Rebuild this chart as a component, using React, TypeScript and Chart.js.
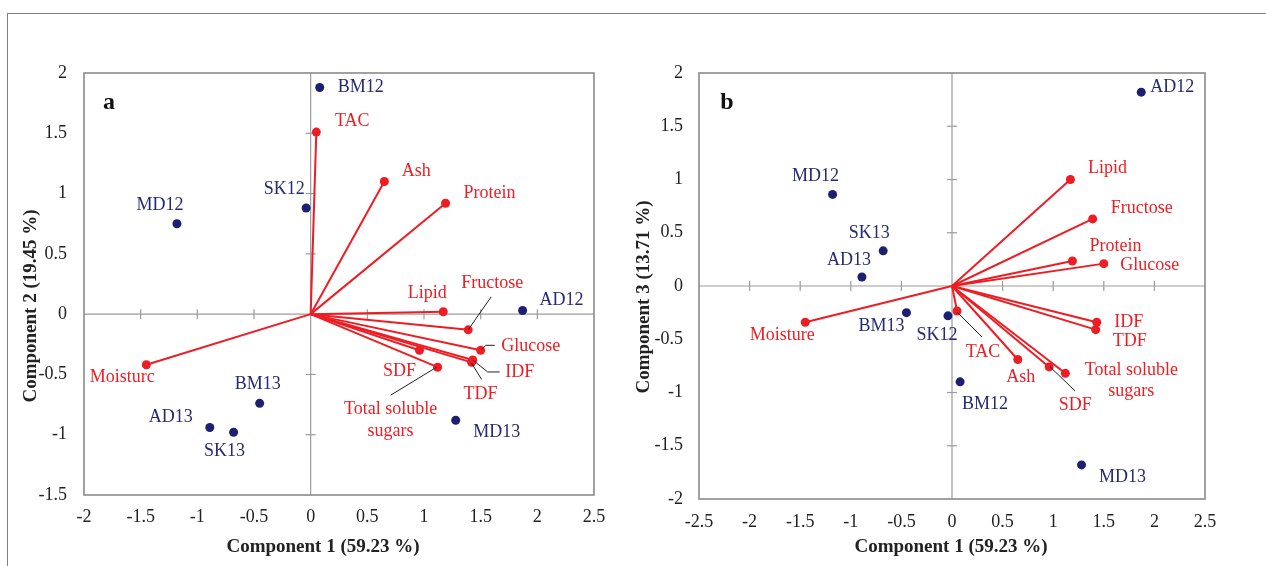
import React, { useEffect, useRef } from 'react';
import { Chart, registerables } from 'chart.js';

Chart.register(...registerables);

// ---------- data ----------
const sampleNames = ['AD12', 'AD13', 'BM12', 'BM13', 'MD12', 'MD13', 'SK12', 'SK13'];
const samplePC1 = [1.87, -0.89, 0.08, -0.45, -1.18, 1.28, -0.04, -0.68];
const samplePC2 = [0.03, -0.94, 1.88, -0.74, 0.75, -0.88, 0.88, -0.98];
const samplePC3 = [1.82, 0.085, -0.9, -0.25, 0.86, -1.68, -0.28, 0.33];

const variableNames = ['Moisture', 'Ash', 'Protein', 'Lipid', 'TAC', 'Fructose', 'Glucose', 'Total soluble sugars', 'SDF', 'IDF', 'TDF'];
const variablePC1 = [-1.45, 0.65, 1.19, 1.17, 0.05, 1.39, 1.5, 1.12, 0.96, 1.43, 1.42];
const variablePC2 = [-0.42, 1.1, 0.92, 0.02, 1.51, -0.13, -0.3, -0.44, -0.3, -0.38, -0.4];
const variablePC3 = [-0.34, -0.69, 0.235, 1.0, -0.235, 0.63, 0.21, -0.82, -0.76, -0.34, -0.41];

const xTitle = 'Component 1 (59.23 %)';
const yTitleA = 'Component 2 (19.45 %)';
const yTitleB = 'Component 3 (13.71 %)';

// ---------- layout / style ----------
const SERIF = "'Liberation Serif', 'Times New Roman', serif";
const NAVY = '#1d2070';
const NAVY_TEXT = '#262a73';
const RED = '#ee1d23';
const TEXT = '#222222';

type Off = [number, number];
type PanelCfg = {
  letter: string;
  canvasLeft: number;
  canvasWidth: number;
  area: { left: number; top: number; right: number; bottom: number };
  xMin: number; xMax: number; yMin: number; yMax: number;
  ys: number[]; yv: number[];
  xTitlePos: Off; yTitlePos: Off; letterPos: Off;
  yTitle: string;
  yTickPad: number; xTickPad: number;
  labelText: Record<string, string[]>;
  sampleOff: Record<string, Off>;
  varOff: Record<string, Off>;
  lineGap: number;
  leaders: Record<string, Off[]>;
};

const panelA: PanelCfg = {
  letter: 'a',
  canvasLeft: 0,
  canvasWidth: 630,
  area: { left: 84, top: 73, right: 594, bottom: 495 },
  xMin: -2, xMax: 2.5, yMin: -1.5, yMax: 2,
  ys: samplePC2, yv: variablePC2,
  xTitlePos: [323, 547], yTitlePos: [31, 306], letterPos: [109, 103],
  yTitle: yTitleA,
  yTickPad: 17, xTickPad: 11,
  labelText: { Moisture: ['Moisturc'], 'Total soluble sugars': ['Total soluble', 'sugars'] },
  sampleOff: {
    AD12: [39, -10], AD13: [-39, -10], BM12: [41, 0], BM13: [-2, -19],
    MD12: [-17, -18], MD13: [41, 12], SK12: [-22, -19], SK13: [-9, 19],
  },
  varOff: {
    Moisture: [-24, 12], Ash: [32, -10], Protein: [44, -10], Lipid: [-16, -18], TAC: [36, -11],
    Fructose: [24, -47], Glucose: [50, -4], 'Total soluble sugars': [-47, 42], SDF: [-20, 21],
    IDF: [47, 12], TDF: [9, 32],
  },
  lineGap: 22,
  leaders: {
    Fructose: [[0, 0], [23, -33]],
    Glucose: [[1, -1], [5, -5], [14, -5]],
    IDF: [[0, 0], [15, 12], [27, 12]],
    TDF: [[0, 1], [10, 17]],
    'Total soluble sugars': [[-1, 0], [-47, 28]],
  },
};

const panelB: PanelCfg = {
  letter: 'b',
  canvasLeft: 630,
  canvasWidth: 636,
  area: { left: 69, top: 73, right: 575, bottom: 499 },
  xMin: -2.5, xMax: 2.5, yMin: -2, yMax: 2,
  ys: samplePC3, yv: variablePC3,
  xTitlePos: [321, 547], yTitlePos: [14, 297], letterPos: [97, 103],
  yTitle: yTitleB,
  yTickPad: 16, xTickPad: 12,
  labelText: { 'Total soluble sugars': ['Total soluble', 'sugars'] },
  sampleOff: {
    AD12: [31, -5], AD13: [-13, -17], BM12: [25, 22], BM13: [-25, 14],
    MD12: [-17, -18], MD13: [41, 12], SK12: [-11, 19], SK13: [-14, -18],
  },
  varOff: {
    Moisture: [-23, 13], Ash: [3, 18], Protein: [43, -15], Lipid: [37, -11], TAC: [26, 41],
    Fructose: [49, -11], Glucose: [46, 2], 'Total soluble sugars': [66, -3], SDF: [26, 38],
    IDF: [32, 0], TDF: [34, 12],
  },
  lineGap: 21,
  leaders: {
    TAC: [[0, 1], [25, 26]],
    SDF: [[1, 0], [26, 24]],
  },
};

const fmtTick = (v: any) => String(Math.round(Number(v) * 100) / 100);

function makePlugin(cfg: PanelCfg) {
  return {
    id: 'biplot' + cfg.letter,
    beforeDatasetsDraw(chart: any) {
      const { ctx, chartArea: ca, scales } = chart;
      const x = scales.x, y = scales.y;
      const x0 = x.getPixelForValue(0);
      const y0 = y.getPixelForValue(0);
      ctx.save();
      ctx.strokeStyle = '#9c9c9c';
      ctx.lineWidth = 1.2;
      const seg = (a: number, b: number, c: number, d: number) => {
        ctx.beginPath(); ctx.moveTo(a, b); ctx.lineTo(c, d); ctx.stroke();
      };
      seg(x0, ca.top, x0, ca.bottom);
      seg(ca.left, y0, ca.right, y0);
      x.ticks.forEach((t: any) => {
        if (t.value > x.min && t.value < x.max && t.value !== 0) {
          const px = x.getPixelForValue(t.value);
          seg(px, y0 - 5, px, y0 + 5);
        }
      });
      y.ticks.forEach((t: any) => {
        if (t.value > y.min && t.value < y.max && t.value !== 0) {
          const py = y.getPixelForValue(t.value);
          seg(x0 - 5, py, x0 + 5, py);
        }
      });
      ctx.strokeStyle = '#8a8a8a';
      ctx.lineWidth = 1.6;
      ctx.strokeRect(ca.left, ca.top, ca.right - ca.left, ca.bottom - ca.top);
      ctx.restore();
    },
    afterDatasetsDraw(chart: any) {
      const { ctx, scales } = chart;
      const x = scales.x, y = scales.y;
      ctx.save();
      ctx.textAlign = 'center';
      ctx.textBaseline = 'middle';
      // leader lines
      ctx.strokeStyle = '#222';
      ctx.lineWidth = 1;
      variableNames.forEach((n, i) => {
        const pts = cfg.leaders[n];
        if (!pts) return;
        const px = x.getPixelForValue(variablePC1[i]);
        const py = y.getPixelForValue(cfg.yv[i]);
        ctx.beginPath();
        pts.forEach((p, k) => {
          if (k === 0) ctx.moveTo(px + p[0], py + p[1]);
          else ctx.lineTo(px + p[0], py + p[1]);
        });
        ctx.stroke();
      });
      // labels
      ctx.font = `18px ${SERIF}`;
      ctx.fillStyle = NAVY_TEXT;
      sampleNames.forEach((n, i) => {
        const o = cfg.sampleOff[n];
        const px = x.getPixelForValue(samplePC1[i]);
        const py = y.getPixelForValue(cfg.ys[i]);
        ctx.fillText(n, px + o[0], py + o[1]);
      });
      ctx.fillStyle = RED;
      variableNames.forEach((n, i) => {
        const o = cfg.varOff[n];
        const px = x.getPixelForValue(variablePC1[i]);
        const py = y.getPixelForValue(cfg.yv[i]);
        const lines = cfg.labelText[n] || [n];
        lines.forEach((t, k) => ctx.fillText(t, px + o[0], py + o[1] + k * cfg.lineGap));
      });
      // panel letter
      ctx.fillStyle = '#111';
      ctx.font = `bold 24px ${SERIF}`;
      ctx.fillText(cfg.letter, cfg.letterPos[0], cfg.letterPos[1]);
      // axis titles
      ctx.fillStyle = TEXT;
      ctx.font = `bold 19px ${SERIF}`;
      ctx.fillText(xTitle, cfg.xTitlePos[0], cfg.xTitlePos[1]);
      ctx.translate(cfg.yTitlePos[0], cfg.yTitlePos[1]);
      ctx.rotate(-Math.PI / 2);
      ctx.fillText(cfg.yTitle, 0, 0);
      ctx.restore();
    },
  };
}

function buildConfig(cfg: PanelCfg): any {
  const vectorSets = variableNames.map((n, i) => ({
    label: n,
    data: [{ x: 0, y: 0 }, { x: variablePC1[i], y: cfg.yv[i] }],
    showLine: true,
    borderColor: RED,
    borderWidth: 2,
    pointRadius: [0, 4.5],
    pointHoverRadius: [0, 4.5],
    pointBackgroundColor: RED,
    pointBorderWidth: 0,
  }));
  const sampleSet = {
    label: 'Samples',
    data: sampleNames.map((_, i) => ({ x: samplePC1[i], y: cfg.ys[i] })),
    pointRadius: 4.5,
    pointBackgroundColor: NAVY,
    pointBorderWidth: 0,
  };
  const h = 566;
  return {
    type: 'scatter',
    data: { datasets: [...vectorSets, sampleSet] },
    options: {
      animation: false,
      responsive: false,
      maintainAspectRatio: false,
      devicePixelRatio: 1,
      events: [],
      layout: {
        padding: { top: cfg.area.top, right: cfg.canvasWidth - cfg.area.right, bottom: 0, left: 0 },
      },
      plugins: { legend: { display: false }, tooltip: { enabled: false } },
      scales: {
        x: {
          type: 'linear',
          min: cfg.xMin,
          max: cfg.xMax,
          grid: { display: false, drawTicks: false },
          border: { display: false },
          ticks: { stepSize: 0.5, color: TEXT, font: { family: SERIF, size: 18 }, padding: cfg.xTickPad, maxRotation: 0, autoSkip: false, callback: fmtTick },
          afterFit: (s: any) => { s.height = h - cfg.area.bottom; },
        },
        y: {
          type: 'linear',
          min: cfg.yMin,
          max: cfg.yMax,
          grid: { display: false, drawTicks: false },
          border: { display: false },
          ticks: { stepSize: 0.5, color: TEXT, font: { family: SERIF, size: 18 }, padding: cfg.yTickPad, autoSkip: false, callback: fmtTick },
          afterFit: (s: any) => { s.width = cfg.area.left; },
        },
      },
    },
    plugins: [makePlugin(cfg)],
  };
}

function Panel({ cfg }: { cfg: PanelCfg }) {
  const ref = useRef<HTMLCanvasElement>(null);
  useEffect(() => {
    const chart = new Chart(ref.current as HTMLCanvasElement, buildConfig(cfg));
    return () => chart.destroy();
  }, [cfg]);
  return (
    <canvas
      ref={ref}
      width={cfg.canvasWidth}
      height={566}
      style={{ position: 'absolute', left: cfg.canvasLeft, top: 0, width: cfg.canvasWidth, height: 566 }}
    />
  );
}

export default function App() {
  return (
    <div style={{ position: 'absolute', left: 0, top: 0, width: 1266, height: 566, overflow: 'hidden', background: '#fff' }}>
      <div
        style={{
          position: 'absolute', left: 7, top: 13, width: 1300, height: 600,
          borderTop: '1.6px solid #808080', borderLeft: '1.6px solid #808080',
        }}
      />
      <Panel cfg={panelA} />
      <Panel cfg={panelB} />
    </div>
  );
}
